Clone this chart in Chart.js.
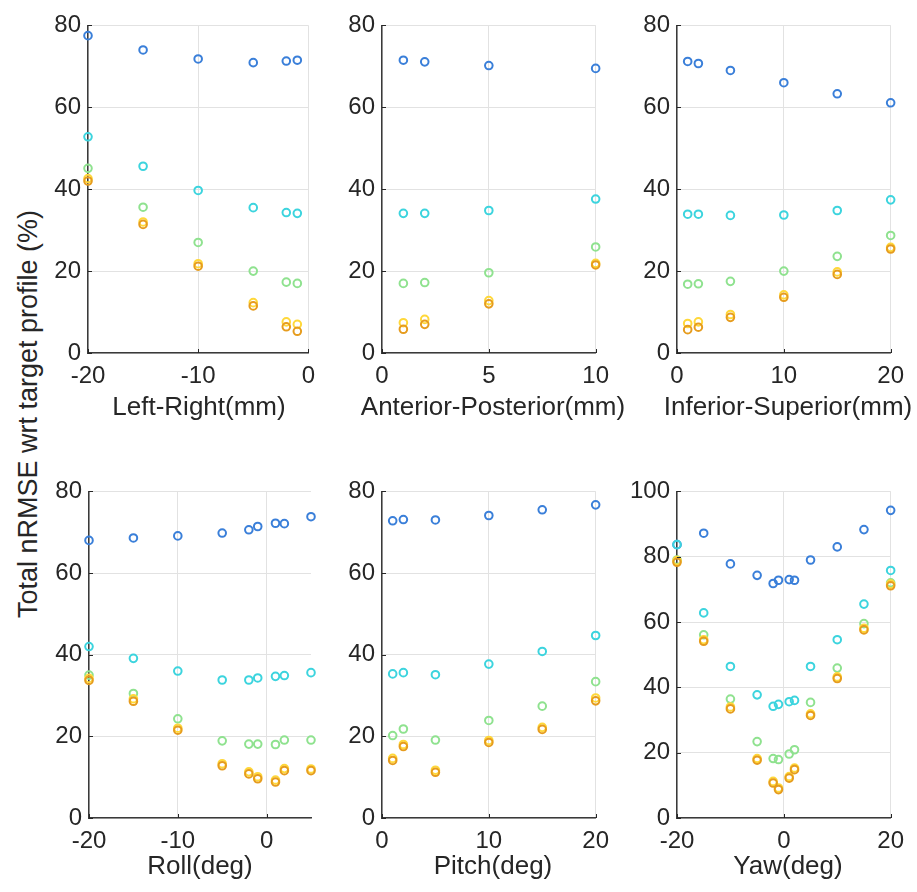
<!DOCTYPE html>
<html>
<head>
<meta charset="utf-8">
<script src="https://cdn.jsdelivr.net/npm/chart.js@4/dist/chart.umd.min.js"></script>
<style>
  html, body { margin: 0; padding: 0; background: #ffffff; }
  #wrap { position: relative; width: 917px; height: 892px; overflow: hidden; background: #fff; }
  canvas { position: absolute; }
  .lab { position: absolute; white-space: nowrap; font-family: "Liberation Sans", Arial, sans-serif;
         color: #262626; line-height: 1; }
  #ylab { left: 28px; top: 414px; transform: translate(-50%, -50%) rotate(-90deg); font-size: 27px; }
  .xlab { transform: translate(-50%, -50%); font-size: 26px; }
</style>
</head>
<body>
<div id="wrap">
  <div id="ylab" class="lab">Total nRMSE wrt target profile (%)</div>
</div>
<script>
// ---------------- DATA ----------------
const axisTitles = ["Left-Right(mm)", "Anterior-Posterior(mm)", "Inferior-Superior(mm)", "Roll(deg)", "Pitch(deg)", "Yaw(deg)"];
const seriesColors = ["#3a7fd9", "#3cd4de", "#8fe28f", "#ffd83a", "#e69c1e"];

const lrX = [-20, -15, -10, -5, -2, -1];
const lrBlue = [77.5, 74.0, 71.8, 70.9, 71.3, 71.5];
const lrCyan = [52.8, 45.6, 39.7, 35.5, 34.3, 34.1];
const lrGreen = [45.1, 35.6, 27.0, 20.0, 17.3, 17.0];
const lrYellow = [42.6, 32.0, 21.8, 12.3, 7.6, 7.0];
const lrOrange = [42.0, 31.4, 21.2, 11.5, 6.4, 5.3];

const apX = [1, 2, 5, 10];
const apBlue = [71.5, 71.1, 70.2, 69.5];
const apCyan = [34.1, 34.1, 34.8, 37.6];
const apGreen = [17.0, 17.2, 19.6, 25.9];
const apYellow = [7.4, 8.2, 12.8, 21.9];
const apOrange = [5.8, 7.0, 12.0, 21.5];

const isX = [1, 2, 5, 10, 15, 20];
const isBlue = [71.2, 70.7, 69.0, 66.0, 63.3, 61.1];
const isCyan = [33.9, 33.9, 33.6, 33.7, 34.8, 37.4];
const isGreen = [16.8, 16.9, 17.5, 20.0, 23.6, 28.7];
const isYellow = [7.2, 7.6, 9.4, 14.2, 19.8, 25.8];
const isOrange = [5.7, 6.3, 8.7, 13.6, 19.2, 25.4];

const rollX = [-20, -15, -10, -5, -2, -1, 1, 2, 5];
const rollBlue = [68.0, 68.6, 69.1, 69.8, 70.6, 71.4, 72.2, 72.1, 73.8];
const rollCyan = [42.0, 39.1, 36.0, 33.8, 33.8, 34.3, 34.7, 34.9, 35.6];
const rollGreen = [35.0, 30.5, 24.3, 18.9, 18.1, 18.1, 18.0, 19.1, 19.1];
const rollYellow = [34.2, 29.2, 22.0, 13.3, 11.3, 10.1, 9.3, 12.1, 12.0];
const rollOrange = [33.7, 28.6, 21.5, 12.8, 10.8, 9.6, 8.8, 11.6, 11.6];

const pitchX = [1, 2, 5, 10, 15, 20];
const pitchBlue = [72.8, 73.1, 73.0, 74.1, 75.5, 76.7];
const pitchCyan = [35.3, 35.6, 35.1, 37.7, 40.8, 44.7];
const pitchGreen = [20.2, 21.8, 19.1, 23.9, 27.4, 33.4];
const pitchYellow = [14.6, 18.0, 11.7, 19.0, 22.2, 29.4];
const pitchOrange = [14.1, 17.5, 11.2, 18.5, 21.7, 28.7];

const yawX = [-20, -15, -10, -5, -2, -1, 1, 2, 5, 10, 15, 20];
const yawBlue = [83.7, 87.2, 77.8, 74.3, 71.8, 72.8, 73.0, 72.8, 79.0, 83.0, 88.3, 94.2];
const yawCyan = [83.7, 62.8, 46.4, 37.7, 34.2, 34.8, 35.6, 36.0, 46.4, 54.6, 65.5, 75.8];
const yawGreen = [79.0, 56.1, 36.4, 23.4, 18.2, 17.9, 19.6, 20.9, 35.4, 45.9, 59.5, 72.0];
const yawYellow = [78.8, 54.6, 34.0, 18.2, 11.2, 9.2, 12.7, 15.3, 31.9, 43.2, 58.1, 71.6];
const yawOrange = [78.3, 54.1, 33.4, 17.7, 10.7, 8.7, 12.2, 14.8, 31.4, 42.7, 57.6, 71.1];

// axis ranges / ticks
const xMins = [-20, 0, 0, -20, 0, -20];
const xMaxs = [0, 10, 20, 5, 20, 20];
const xSteps = [10, 5, 10, 10, 10, 20];
const yMaxs = [80, 80, 80, 80, 80, 100];

// ---------------- LAYOUT ----------------
const FONT = '"Liberation Sans", Arial, sans-serif';
const TXT = '#262626';
const Y_AXIS_W = 60, PAD_T = 14, PAD_R = 14, X_AXIS_H = 40;
const areaLeft = [88, 382, 677, 89, 382, 677];
const areaTop = [18, 18, 18, 484, 484, 484];
const areaW = 222;
const areaH = [335, 335, 335, 334, 334, 334];
const titleY = [406, 406, 406, 865, 865, 865];

const panelData = [
  [lrX, lrBlue, lrCyan, lrGreen, lrYellow, lrOrange],
  [apX, apBlue, apCyan, apGreen, apYellow, apOrange],
  [isX, isBlue, isCyan, isGreen, isYellow, isOrange],
  [rollX, rollBlue, rollCyan, rollGreen, rollYellow, rollOrange],
  [pitchX, pitchBlue, pitchCyan, pitchGreen, pitchYellow, pitchOrange],
  [yawX, yawBlue, yawCyan, yawGreen, yawYellow, yawOrange]
];

const inwardTicks = {
  id: 'inwardTicks',
  afterDatasetsDraw(chart) {
    const { ctx, chartArea: a, scales } = chart;
    const x = scales.x, y = scales.y;
    ctx.save();
    ctx.strokeStyle = TXT;
    ctx.lineWidth = 1;
    ctx.beginPath();
    x.ticks.forEach(t => {
      const px = Math.round(x.getPixelForValue(t.value)) + 0.5;
      ctx.moveTo(px, a.bottom); ctx.lineTo(px, a.bottom - 4);
    });
    y.ticks.forEach(t => {
      const py = Math.round(y.getPixelForValue(t.value)) + 0.5;
      ctx.moveTo(a.left, py); ctx.lineTo(a.left + 4, py);
    });
    ctx.stroke();
    ctx.restore();
  }
};

const wrap = document.getElementById('wrap');
panelData.forEach((pd, i) => {
  const cv = document.createElement('canvas');
  const w = Y_AXIS_W + areaW + PAD_R;
  const h = PAD_T + areaH[i] + X_AXIS_H;
  cv.width = w; cv.height = h;
  cv.style.width = w + 'px'; cv.style.height = h + 'px';
  cv.style.left = (areaLeft[i] - Y_AXIS_W) + 'px';
  cv.style.top = (areaTop[i] - PAD_T) + 'px';
  wrap.appendChild(cv);

  const t = document.createElement('div');
  t.className = 'lab xlab';
  t.textContent = axisTitles[i];
  t.style.left = (areaLeft[i] + areaW / 2) + 'px';
  t.style.top = titleY[i] + 'px';
  wrap.appendChild(t);

  const xs = pd[0];
  const datasets = [1, 2, 3, 4, 5].map(k => ({
    data: xs.map((xv, j) => ({ x: xv, y: pd[k][j] })),
    borderColor: seriesColors[k - 1],
    backgroundColor: 'rgba(0,0,0,0)',
    pointRadius: 3.8,
    pointBorderWidth: 2,
    pointHoverRadius: 3.8,
    showLine: false,
    clip: false,
    order: 6 - k
  }));

  new Chart(cv, {
    type: 'scatter',
    data: { datasets },
    plugins: [inwardTicks],
    options: {
      responsive: false,
      devicePixelRatio: 1,
      animation: false,
      events: [],
      layout: { padding: { top: PAD_T, right: PAD_R, left: 0, bottom: 0 } },
      plugins: { legend: { display: false }, tooltip: { enabled: false } },
      scales: {
        x: {
          type: 'linear',
          min: xMins[i], max: xMaxs[i],
          afterFit(s) { s.height = X_AXIS_H; },
          ticks: { stepSize: xSteps[i], includeBounds: false, color: TXT, padding: 9,
                   font: { family: FONT, size: 24 }, maxRotation: 0 },
          grid: { color: '#e2e2e2', lineWidth: 1, drawTicks: false },
          border: { display: true, color: '#3a3a3a', width: 1.5 }
        },
        y: {
          type: 'linear',
          min: 0, max: yMaxs[i],
          afterFit(s) { s.width = Y_AXIS_W; },
          ticks: { stepSize: 20, color: TXT, padding: 7, font: { family: FONT, size: 24 } },
          grid: { color: '#e2e2e2', lineWidth: 1, drawTicks: false },
          border: { display: true, color: '#3a3a3a', width: 1.5 }
        }
      }
    }
  });
});
</script>
</body>
</html>
